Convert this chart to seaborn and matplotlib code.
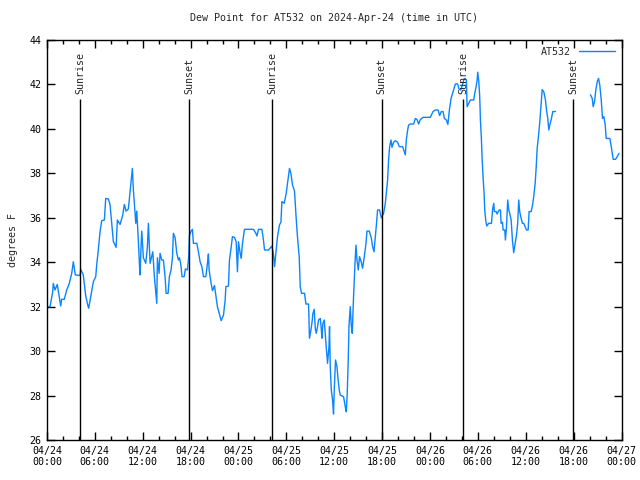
import pandas as pd
import seaborn as sns
import matplotlib.pyplot as plt
import matplotlib.dates as mdates
from matplotlib.ticker import NullLocator

# dew point readings: hours since 2024-04-24 00:00 UTC and degrees F
hours_a = [0.0, 0.38, 0.72, 0.79, 1.0, 1.29, 1.54, 1.72, 1.84, 2.17, 2.47, 2.80, 3.10, 3.30, 3.55,
           4.14, 4.23, 4.55, 4.85, 5.11, 5.23, 5.48, 5.81, 6.11, 6.23, 6.44, 6.65, 6.86, 7.19, 7.28,
           7.36, 7.69, 7.90, 8.12, 8.32, 8.66, 8.82, 9.16, 9.50, 9.70, 9.91, 10.20, 10.32, 10.50,
           10.70, 10.83, 11.13, 11.25, 11.45, 11.58, 11.67, 11.79, 11.88, 12.08, 12.38, 12.58,
           12.71, 12.92, 13.26, 13.46, 13.67, 13.76, 13.84, 14.05, 14.17, 14.39, 14.59, 14.80,
           14.93, 15.18, 15.34, 15.55, 15.72, 15.84, 16.06, 16.27, 16.47, 16.60, 16.77, 16.93,
           17.19, 17.35, 17.60, 17.77, 17.85, 18.06, 18.23, 18.35, 18.78, 18.98, 19.19, 19.41,
           19.61, 19.91, 20.11, 20.23, 20.32, 20.57, 20.74, 20.99, 21.16, 21.36, 21.58, 21.83,
           22.12, 22.33, 22.42, 22.74, 22.87, 23.04, 23.24, 23.50, 23.71, 23.87, 24.00, 24.21,
           24.34, 24.50, 24.75, 25.25, 25.88, 26.18, 26.31, 26.51, 26.93, 27.13, 27.26, 27.76,
           28.19, 28.39, 28.52, 28.69, 28.89, 29.14, 29.32, 29.44, 29.73, 29.98, 30.14, 30.39,
           30.57, 30.77, 31.02, 31.23, 31.40, 31.61, 31.74, 31.90, 32.28, 32.45, 32.78, 32.90,
           33.08, 33.20, 33.33, 33.49, 33.62, 33.74, 33.91, 34.03, 34.25, 34.37, 34.46, 34.58,
           34.75, 34.96, 35.16, 35.34, 35.41, 35.50, 35.63, 35.79, 35.91, 36.00, 36.16, 36.34,
           36.47, 36.63, 36.75, 37.17, 37.38, 37.51, 37.63, 37.76, 37.85, 38.01, 38.13, 38.26,
           38.42, 38.60, 38.72, 38.85, 39.01, 39.17, 39.39, 39.55, 39.77, 39.98, 40.10, 40.39,
           40.64, 40.81, 40.98, 41.15, 41.27, 41.43, 41.68, 41.90, 42.19, 42.40, 42.53, 42.69,
           42.81, 42.94, 43.11, 43.24, 43.44, 43.65, 43.94, 44.15, 44.57, 44.91, 45.03, 45.20,
           45.32, 45.54, 45.95, 46.16, 46.38, 46.58, 46.79, 47.13, 48.04, 48.38, 48.67, 49.01,
           49.21, 49.42, 49.64, 49.80, 50.05, 50.24, 50.43, 50.64, 50.89, 51.18, 51.47, 51.62,
           51.85, 52.06, 52.25, 52.37, 52.56, 52.65, 52.85, 53.06, 53.48, 53.61, 53.78, 53.91,
           53.98, 54.11, 54.23, 54.32, 54.44, 54.53, 54.66, 54.78, 54.86, 54.98, 55.11, 55.36,
           55.70, 55.86, 55.99, 56.07, 56.29, 56.41, 56.66, 56.83, 56.91, 57.08, 57.16, 57.37,
           57.45, 57.58, 57.67, 57.74, 57.87, 57.99, 58.17, 58.33, 58.49, 58.67, 58.83, 58.99,
           59.12, 59.24, 59.42, 59.58, 59.75, 59.92, 60.09, 60.30, 60.42, 60.68, 60.84, 61.00,
           61.18, 61.30, 61.43, 61.59, 61.76, 61.93, 62.06, 62.26, 62.47, 62.60, 62.76, 62.89,
           63.01, 63.22, 63.39, 63.73]
dewpt_a = [32.0, 32.0, 32.67, 33.05, 32.75, 33.0, 32.45, 32.03, 32.33, 32.33, 32.75, 33.05, 33.5,
           34.02, 33.43, 33.4, 33.68, 33.43, 32.5, 32.07, 31.93, 32.45, 33.12, 33.35, 33.88, 34.58,
           35.37, 35.87, 35.9, 36.38, 36.87, 36.85, 36.6, 35.75, 34.93, 34.67, 35.9, 35.7, 36.13,
           36.6, 36.3, 36.4, 36.85, 37.48, 38.22, 37.25, 35.75, 36.3, 34.97, 33.95, 33.43, 34.73,
           35.4, 34.2, 33.95, 34.67, 35.75, 33.95, 34.47, 33.35, 32.5, 32.15, 34.2, 33.5, 34.4,
           34.1, 34.1, 33.35, 32.6, 32.6, 33.35, 33.65, 34.2, 35.3, 35.1, 34.4, 34.1, 34.2, 33.9,
           33.35, 33.35, 33.7, 33.65, 34.3, 35.2, 35.4, 35.48, 34.85, 34.85, 34.47, 34.02, 33.8,
           33.35, 33.35, 33.95, 34.37, 33.65, 33.05, 32.72, 32.95, 32.52, 32.0, 31.7, 31.37, 31.62,
           32.3, 32.9, 32.93, 34.1, 34.55, 35.15, 35.12, 34.92, 33.57, 34.92, 34.4, 34.17, 34.85,
           35.48, 35.48, 35.48, 35.3, 35.18, 35.48, 35.48, 35.0, 34.55, 34.55, 34.73, 34.33, 33.8,
           34.4, 35.15, 35.68, 35.8, 36.73, 36.65, 37.1, 37.55, 38.22, 38.0, 37.48, 37.2, 35.98,
           35.1, 34.25, 32.9, 32.6, 32.6, 32.12, 32.12, 30.58, 30.95, 31.25, 31.7, 31.88, 31.03,
           30.8, 31.1, 31.4, 31.47, 31.03, 30.58, 31.25, 31.4, 30.35, 29.45, 30.2, 31.1, 29.3,
           28.25, 27.8, 27.17, 28.25, 29.6, 29.3, 28.77, 28.25, 28.02, 27.95, 27.5, 27.27, 28.1,
           29.67, 31.17, 32.0, 31.17, 30.8, 32.45, 33.95, 34.77, 34.1, 33.65, 34.25, 34.0, 33.73,
           34.25, 34.85, 35.4, 35.4, 35.1, 34.7, 34.47, 35.15, 35.63, 36.35, 36.35, 36.0, 36.2,
           36.65, 37.1, 37.7, 38.6, 39.2, 39.5, 39.17, 39.4, 39.47, 39.4, 39.2, 39.2, 38.83, 39.5,
           39.95, 40.17, 40.22, 40.22, 40.47, 40.42, 40.22, 40.42, 40.52, 40.52, 40.78, 40.85,
           40.85, 40.6, 40.78, 40.78, 40.47, 40.4, 40.2, 40.85, 41.37, 41.67, 42.02, 42.02, 41.8,
           41.75, 41.97, 42.23, 42.27, 42.2, 41.0, 41.15, 41.3, 41.3, 41.6, 41.9, 42.2, 42.55,
           42.15, 41.45, 40.4, 39.57, 38.67, 37.77, 37.1, 36.35, 35.9, 35.63, 35.75, 35.75, 36.42,
           36.65, 36.28, 36.28, 36.17, 36.35, 36.35, 35.75, 35.8, 35.45, 35.45, 35.0, 35.55, 36.2,
           36.8, 36.35, 36.2, 35.9, 35.0, 34.43, 34.85, 35.2, 35.75, 36.8, 36.28, 35.98, 35.75,
           35.75, 35.6, 35.45, 35.45, 36.28, 36.28, 36.55, 36.95, 37.55, 38.22, 39.12, 39.65,
           40.32, 41.15, 41.77, 41.67, 41.3, 40.85, 40.47, 39.95, 40.17, 40.47, 40.78, 40.78]
# readings resume after a gap
hours_b = [68.11, 68.33, 68.45, 68.62, 68.78, 68.96, 69.12, 69.28, 69.46, 69.62, 69.79, 69.96,
           70.08, 70.54, 70.75, 70.96, 71.25, 71.46, 71.69]
dewpt_b = [41.53, 41.37, 41.0, 41.22, 41.75, 42.12, 42.27, 41.97, 41.3, 40.47, 40.55, 40.17,
           39.57, 39.57, 39.12, 38.63, 38.63, 38.75, 38.9]

sun_hours = [4.2, 17.82, 28.25, 41.95, 52.17, 65.94]
sun_labels = ['Sunrise', 'Sunset', 'Sunrise', 'Sunset', 'Sunrise', 'Sunset']

start = pd.Timestamp('2024-04-24 00:00')
df = pd.DataFrame({
    'hours': hours_a + hours_b,
    'dewpt': dewpt_a + dewpt_b,
    'seg': [0] * len(hours_a) + [1] * len(hours_b),
})
df['time'] = start + pd.to_timedelta(df['hours'], unit='h')

sns.set_style('ticks')
plt.rcParams['font.family'] = ['DejaVu Sans Mono']
plt.rcParams['font.size'] = 7.2

fig = plt.figure(figsize=(6.4, 4.8), dpi=100)
ax = fig.add_axes([0.0734, 0.0833, 0.8977, 0.8334])

sns.lineplot(data=df, x='time', y='dewpt', units='seg', estimator=None,
             color='#0a84ff', linewidth=1, ax=ax, label='AT532')

# sunrise / sunset markers
for h, lab in zip(sun_hours, sun_labels):
    t = start + pd.Timedelta(hours=h)
    ax.vlines(t, 26, 41.35, color='black', linewidth=1)
    ax.text(t, 41.55, lab, rotation=90, ha='center', va='bottom', fontsize=7.2)

ax.set_xlim(start, start + pd.Timedelta(hours=72))
ax.set_ylim(26, 44)
ax.set_yticks(range(26, 45, 2))
ax.yaxis.set_minor_locator(NullLocator())
ax.xaxis.set_major_locator(mdates.HourLocator(byhour=range(0, 24, 6)))
ax.xaxis.set_minor_locator(mdates.HourLocator(byhour=range(0, 24, 2)))
ax.xaxis.set_major_formatter(mdates.DateFormatter('%m/%d\n%H:%M'))
ax.tick_params(which='both', direction='in', top=True, right=True, colors='black',
               labelsize=7.2, pad=4)
ax.tick_params(which='major', length=6, width=1)
ax.tick_params(which='minor', length=3, width=1)
for s in ax.spines.values():
    s.set_color('black')
    s.set_linewidth(1)

ax.set_xlabel('')
ax.set_ylabel('degrees F', fontsize=7.2, labelpad=8)
ax.set_title('Dew Point for AT532 on 2024-Apr-24 (time in UTC)', fontsize=7.2, pad=14)
handles, labels = ax.get_legend_handles_labels()
ax.legend(handles[:1], labels[:1], loc='upper right', frameon=False, markerfirst=False,
          fontsize=7.2, handlelength=3.6, borderaxespad=0.3)

fig.savefig('out.png', dpi=100)
